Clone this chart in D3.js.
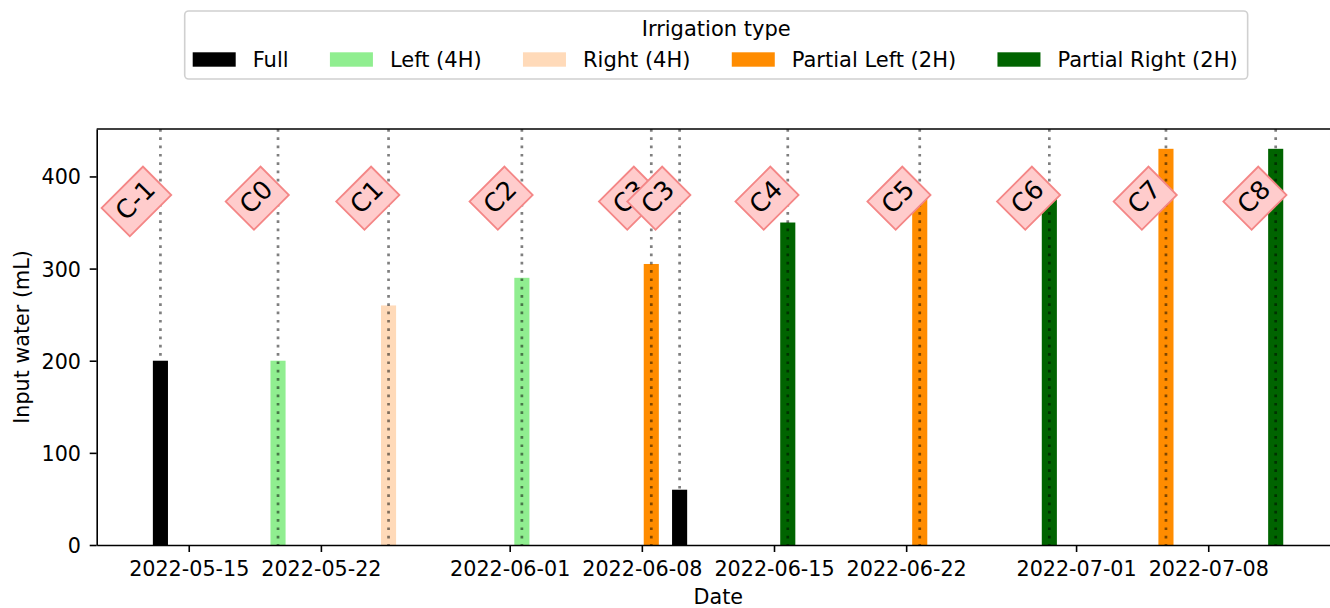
<!DOCTYPE html>
<html>
<head>
<meta charset="utf-8">
<script src="https://cdn.jsdelivr.net/npm/d3@7"></script>
<style>
  html, body { margin: 0; padding: 0; background: #fff; }
  svg { display: block; font-family: "DejaVu Sans", sans-serif; }
</style>
</head>
<body>
<svg id="chart" width="1330" height="608"></svg>
<script>
// Irrigation events: date/time, input water (mL), irrigation type, cycle label
const eventDates = [
  new Date(2022, 4, 13, 12, 0),
  new Date(2022, 4, 19, 17, 30),
  new Date(2022, 4, 25, 14, 0),
  new Date(2022, 5, 1, 15, 30),
  new Date(2022, 5, 8, 12, 0),
  new Date(2022, 5, 10, 0, 0),
  new Date(2022, 5, 15, 17, 30),
  new Date(2022, 5, 22, 17, 15),
  new Date(2022, 5, 29, 14, 0),
  new Date(2022, 6, 5, 18, 15),
  new Date(2022, 6, 11, 13, 45)
];
const inputWater = [200, 200, 260, 290, 305, 60, 350, 380, 380, 430, 430];
const eventTypes = [
  "Full", "Left (4H)", "Right (4H)", "Left (4H)", "Partial Left (2H)", "Full",
  "Partial Right (2H)", "Partial Left (2H)", "Partial Right (2H)",
  "Partial Left (2H)", "Partial Right (2H)"
];
const cycleLabels = ["C-1", "C0", "C1", "C2", "C3", "C3", "C4", "C5", "C6", "C7", "C8"];

const typeNames = ["Full", "Left (4H)", "Right (4H)", "Partial Left (2H)", "Partial Right (2H)"];
const typeColors = ["#000000", "#90ee90", "#ffdab9", "#ff8c00", "#006400"];

const xTickDates = [
  new Date(2022, 4, 15), new Date(2022, 4, 22), new Date(2022, 5, 1), new Date(2022, 5, 8),
  new Date(2022, 5, 15), new Date(2022, 5, 22), new Date(2022, 6, 1), new Date(2022, 6, 8)
];
const yTicks = [0, 100, 200, 300, 400];
const labelLevel = 380;       // height (mL) at which cycle labels are anchored
const barWidthDays = 0.8;

const svg = d3.select("#chart");
const plot = { left: 96.7, right: 1340, top: 129, bottom: 545 };
const FS = 20.7;
const LFS = 21;

const x = d3.scaleTime()
  .domain([new Date(2022, 4, 10, 3, 0), new Date(2022, 6, 14, 23, 30)])
  .range([plot.left, plot.right]);
const y = d3.scaleLinear().domain([0, 451.5]).range([plot.bottom, plot.top]);
const color = d3.scaleOrdinal().domain(typeNames).range(typeColors);

const events = eventDates.map((d, i) => ({
  date: d, value: inputWater[i], type: eventTypes[i], label: cycleLabels[i]
}));

const dayMs = 864e5;
const halfBar = barWidthDays * dayMs / 2;

svg.append("clipPath").attr("id", "plotclip")
  .append("rect").attr("x", plot.left).attr("y", plot.top)
  .attr("width", plot.right - plot.left).attr("height", plot.bottom - plot.top);

const gPlot = svg.append("g").attr("clip-path", "url(#plotclip)");

// bars
gPlot.selectAll("rect.bar").data(events).join("rect")
  .attr("class", "bar")
  .attr("x", d => x(new Date(+d.date - halfBar)))
  .attr("width", d => x(new Date(+d.date + halfBar)) - x(new Date(+d.date - halfBar)))
  .attr("y", d => y(d.value))
  .attr("height", d => y(0) - y(d.value))
  .attr("fill", d => color(d.type));

// dotted event markers across the full height
gPlot.selectAll("line.vl").data(events).join("line")
  .attr("class", "vl")
  .attr("x1", d => x(d.date)).attr("x2", d => x(d.date))
  .attr("y1", plot.top).attr("y2", plot.bottom)
  .attr("stroke", "#000").attr("stroke-opacity", 0.5)
  .attr("stroke-width", 2.7).attr("stroke-dasharray", "2.7 5.6");

// axes
const xAxis = d3.axisBottom(x).tickValues(xTickDates)
  .tickFormat(d3.timeFormat("%Y-%m-%d")).tickSize(7).tickSizeOuter(0).tickPadding(9.8);
const yAxis = d3.axisLeft(y).tickValues(yTicks).tickSize(7).tickSizeOuter(0).tickPadding(8.7);

const gx = svg.append("g").attr("transform", `translate(0,${plot.bottom})`).call(xAxis);
const gy = svg.append("g").attr("transform", `translate(${plot.left},0)`).call(yAxis);
[gx, gy].forEach(g => {
  g.selectAll("path.domain").attr("stroke", "#000").attr("stroke-width", 1.6);
  g.selectAll(".tick line").attr("stroke", "#000").attr("stroke-width", 1.6);
  g.selectAll(".tick text").attr("fill", "#000")
    .style("font-family", "DejaVu Sans").style("font-size", FS + "px");
});
gy.selectAll(".tick text").attr("dy", "0.36em");

// top spine
svg.append("line")
  .attr("x1", plot.left).attr("x2", plot.right)
  .attr("y1", plot.top).attr("y2", plot.top)
  .attr("stroke", "#000").attr("stroke-width", 1.6);

// axis titles
svg.append("text").attr("x", (plot.left + plot.right) / 2).attr("y", 604)
  .attr("text-anchor", "middle").style("font-size", FS + "px").text("Date");
svg.append("text")
  .attr("transform", `translate(29,${(plot.top + plot.bottom) / 2}) rotate(-90)`)
  .attr("text-anchor", "middle").style("font-size", FS + "px").text("Input water (mL)");

// cycle labels: rotated boxes anchored at their lower-right corner
const AFS = 25.5, pad = 0.3 * AFS, H = 0.968 * AFS, desc = 0.208 * AFS;
const gLab = svg.append("g");
events.forEach(d => {
  const g = gLab.append("g")
    .attr("transform", `translate(${x(d.date)},${y(labelLevel)}) rotate(-45)`);
  const rect = g.append("rect");
  const t = g.append("text")
    .attr("x", 0).attr("y", -desc)
    .attr("text-anchor", "end")
    .style("font-size", AFS + "px").attr("fill", "#000")
    .text(d.label);
  const w = t.node().getComputedTextLength();
  rect.attr("x", -w - pad).attr("y", -H - pad)
    .attr("width", w + 2 * pad).attr("height", H + 2 * pad)
    .attr("fill", "#ffcccc").attr("stroke", "#f48686").attr("stroke-width", 1.8);
});

// legend
const leg = svg.append("g");
const legBox = leg.append("rect");
const legTitle = leg.append("text").attr("y", 36)
  .attr("text-anchor", "middle").style("font-size", LFS + "px").text("Irrigation type");
let cx = 192.7;
const patchW = 43, gapText = 17, colGap = 41.3;
typeNames.forEach((name, i) => {
  leg.append("rect").attr("x", cx).attr("y", 52.3).attr("width", patchW).attr("height", 14.4)
    .attr("fill", typeColors[i]);
  const t = leg.append("text").attr("x", cx + patchW + gapText).attr("y", 67)
    .style("font-size", LFS + "px").text(name);
  const w = t.node().getComputedTextLength();
  cx = cx + patchW + gapText + w + (i < typeNames.length - 1 ? colGap : 0);
});
const legLeft = 184.7, legRight = cx + 10;
legBox.attr("x", legLeft).attr("y", 11).attr("width", legRight - legLeft).attr("height", 68)
  .attr("rx", 4).attr("ry", 4)
  .attr("fill", "#fff").attr("fill-opacity", 0.8)
  .attr("stroke", "#d0d0d0").attr("stroke-width", 1.6);
legTitle.attr("x", (legLeft + legRight) / 2);
</script>
</body>
</html>
